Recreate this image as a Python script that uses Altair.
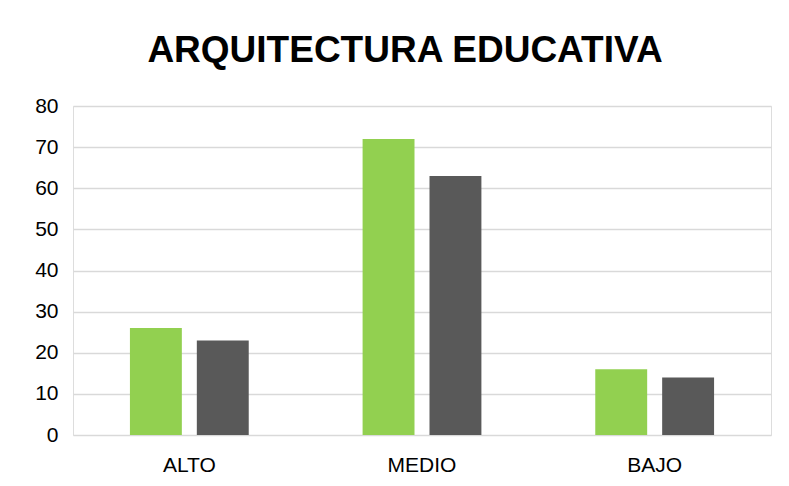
import altair as alt
import pandas as pd

categories = ["ALTO", "MEDIO", "BAJO"]
series = ["Serie 1", "Serie 2"]
values_s1 = [26, 72, 16]
values_s2 = [23, 63, 14]
colors = ["#92D050", "#595959"]

rows = []
for c, a, b in zip(categories, values_s1, values_s2):
    rows.append({"cat": c, "serie": series[0], "value": a})
    rows.append({"cat": c, "serie": series[1], "value": b})
df = pd.DataFrame(rows)

chart = (
    alt.Chart(df)
    .mark_bar()
    .encode(
        x=alt.X("cat:N", sort=categories, title=None,
                scale=alt.Scale(paddingInner=0, paddingOuter=0),
                axis=alt.Axis(labelAngle=0, labelFontSize=21, labelColor="#000000",
                              labelFont="Liberation Sans", ticks=False, domain=False,
                              labelPadding=19)),
        xOffset=alt.XOffset("serie:N", sort=series,
                            scale=alt.Scale(paddingInner=0.224, paddingOuter=0.851)),
        y=alt.Y("value:Q", title=None,
                scale=alt.Scale(domain=[0, 80], nice=False),
                axis=alt.Axis(values=list(range(0, 81, 10)), labelFontSize=21,
                              labelColor="#000000", labelFont="Liberation Sans",
                              ticks=False, domain=False, labelPadding=15,
                              gridColor="#d9d9d9", gridWidth=1.3)),
        color=alt.Color("serie:N", sort=series,
                        scale=alt.Scale(domain=series, range=colors), legend=None),
    )
    .properties(
        width=698,
        height=329,
        title=alt.TitleParams("ARQUITECTURA EDUCATIVA", fontSize=37, font="Liberation Sans",
                              fontWeight="bold", color="#000000", anchor="middle",
                              offset=25, dx=-17),
        autosize=alt.AutoSizeParams(type="none"),
        padding={"left": 65, "top": 98, "right": 10, "bottom": 40},
    )
    .configure_view(stroke=None)
    .configure(background="white")
)

chart.save("out.html", embed_options={"renderer": "svg", "actions": False})
